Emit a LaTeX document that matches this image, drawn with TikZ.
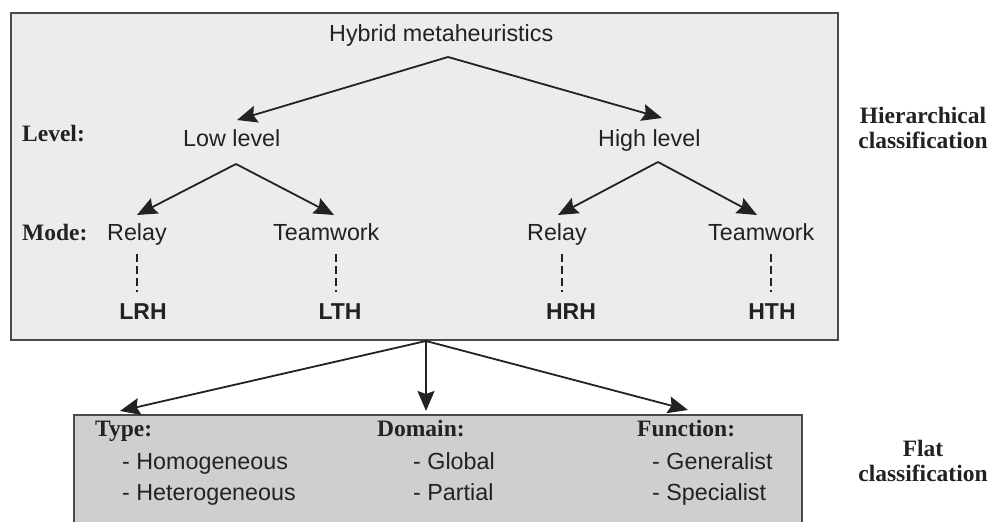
\documentclass[tikz,border=0pt]{standalone}
\usepackage{fontspec}
\setmainfont{Liberation Serif}
\newfontfamily\hv{Liberation Sans}
\usetikzlibrary{arrows.meta}
\definecolor{ink}{HTML}{222222}
\definecolor{frame}{HTML}{4A4A4A}
\definecolor{lightfill}{HTML}{ECECEC}
\definecolor{darkfill}{HTML}{CFCFCF}
\tikzset{
  panel/.style={draw=frame, line width=2pt},
  txt/.style={inner sep=0pt, text=ink, font=\hv\fontsize{23.3}{27}\selectfont},
  tag/.style={inner sep=0pt, text=ink, font=\bfseries\fontsize{23.5}{25}\selectfont},
  code/.style={inner sep=0pt, text=ink, font=\hv\bfseries\fontsize{23}{27}\selectfont},
  arr/.style={draw=ink, line width=1.8pt, -{Stealth[length=20pt,width=17pt,inset=3pt]}},
  link/.style={draw=ink, line width=1.6pt, dash pattern=on 8pt off 4pt},
}
\begin{document}
\begin{tikzpicture}[x=1pt,y=-1pt]
\useasboundingbox (0,0) rectangle (991,522);

% panels
\path[panel, fill=lightfill] (11,13) rectangle (838,340);
\path[panel, fill=darkfill] (74,415) rectangle (802,540);

% hierarchical tree
\node[txt, anchor=base west] (hyb) at (329,41) {Hybrid metaheuristics};
\node[tag, anchor=base west] (lvl) at (22,141) {Level:};
\node[txt, anchor=base west] (low) at (183,146) {Low level};
\node[txt, anchor=base west] (high) at (598,146) {High level};
\node[tag, anchor=base west] (mode) at (22,240) {Mode:};
\node[txt, anchor=base west] (lr) at (107,240) {Relay};
\node[txt, anchor=base west] (lt) at (273,240) {Teamwork};
\node[txt, anchor=base west] (hr) at (527,240) {Relay};
\node[txt, anchor=base west] (ht) at (708,240) {Teamwork};
\node[code, anchor=base] (lrh) at (143,319) {LRH};
\node[code, anchor=base] (lth) at (340,319) {LTH};
\node[code, anchor=base] (hrh) at (571,319) {HRH};
\node[code, anchor=base] (hth) at (772,319) {HTH};

% branch points and arrow ends
\coordinate (hybOut) at (448,57);
\coordinate (lowIn) at (237,120);
\coordinate (highIn) at (662,118);
\coordinate (lowOut) at (236,164);
\coordinate (highOut) at (658,162);
\coordinate (lrIn) at (137,215);
\coordinate (ltIn) at (334,215);
\coordinate (hrIn) at (558,215);
\coordinate (htIn) at (757,215);

\draw[arr] (hybOut) -- (lowIn);
\draw[arr] (hybOut) -- (highIn);
\draw[arr] (lowOut) -- (lrIn);
\draw[arr] (lowOut) -- (ltIn);
\draw[arr] (highOut) -- (hrIn);
\draw[arr] (highOut) -- (htIn);

\draw[link] (137,254) -- (137,292);
\draw[link] (336,254) -- (336,292);
\draw[link] (562,254) -- (562,292);
\draw[link] (771,254) -- (771,292);

\node[tag, align=center, anchor=base] (hier) at (923,148) {Hierarchical\\classification};

% flat classification
\coordinate (flatOut) at (426,341);
\coordinate (typeIn) at (120,411);
\coordinate (domIn) at (426,411);
\coordinate (funIn) at (688,410);
\draw[arr] (flatOut) -- (typeIn);
\draw[arr] (flatOut) -- (domIn);
\draw[arr] (flatOut) -- (funIn);

\node[tag, anchor=base west] (type) at (95,436) {Type:};
\node[txt, anchor=base west] (homo) at (122,469) {- Homogeneous};
\node[txt, anchor=base west] (hete) at (122,500) {- Heterogeneous};
\node[tag, anchor=base west] (dom) at (377,436) {Domain:};
\node[txt, anchor=base west] (glob) at (413,469) {- Global};
\node[txt, anchor=base west] (part) at (413,500) {- Partial};
\node[tag, anchor=base west] (fun) at (637,436) {Function:};
\node[txt, anchor=base west] (gen) at (652,469) {- Generalist};
\node[txt, anchor=base west] (spec) at (652,500) {- Specialist};

\node[tag, align=center, anchor=base] (flat) at (923,481) {Flat\\classification};
\end{tikzpicture}
\end{document}
